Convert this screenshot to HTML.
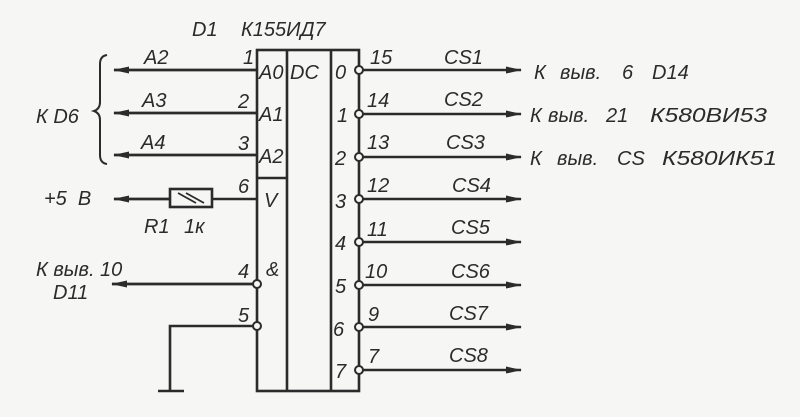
<!DOCTYPE html>
<html><head><meta charset="utf-8"><style>
html,body{margin:0;padding:0;background:#f6f6f4;}
svg{display:block}
text{font-family:"Liberation Sans","DejaVu Sans",sans-serif;font-style:italic;fill:#2b2b2b;font-size:20px;white-space:pre}
</style></head><body>
<svg width="800" height="417" viewBox="0 0 800 417" xmlns="http://www.w3.org/2000/svg">
<defs>
<marker id="a" markerWidth="16" markerHeight="10" refX="15" refY="5" orient="auto" markerUnits="userSpaceOnUse">
<path d="M0,1.5 L16,5 L0,8.5 Z" fill="#2b2b2b"/></marker>
</defs>
<g stroke="#2b2b2b" stroke-width="2.6" fill="none">
<rect x="257" y="50" width="102" height="341"/>
<line x1="287" y1="50" x2="287" y2="391"/>
<line x1="331" y1="50" x2="331" y2="391"/>
<line x1="257" y1="178" x2="287" y2="178"/>
<line x1="257" y1="70" x2="114" y2="70" marker-end="url(#a)" stroke-width="2.8"/>
<line x1="257" y1="113" x2="114" y2="113" marker-end="url(#a)" stroke-width="2.8"/>
<line x1="257" y1="155" x2="114" y2="155" marker-end="url(#a)" stroke-width="2.8"/>
<line x1="257" y1="199" x2="212" y2="199"/>
<rect x="170" y="189" width="42" height="18"/>
<line x1="178" y1="193" x2="196" y2="203" stroke-width="1.8"/>
<line x1="186" y1="193" x2="204" y2="203" stroke-width="1.8"/>
<line x1="170" y1="199" x2="114" y2="199" marker-end="url(#a)" stroke-width="2.8"/>
<line x1="253" y1="284" x2="112" y2="284" marker-end="url(#a)" stroke-width="2.8"/>
<polyline points="253,326 170,326 170,391"/>
<line x1="158" y1="391" x2="184" y2="391"/>
<path d="M107,55 Q100,56 100,64 L100,102 Q100,109 94,111 Q100,113 100,120 L100,155 Q100,163 107,164" stroke-width="2"/>
<g marker-end="url(#a)" stroke-width="2.6">
<line x1="363" y1="70" x2="521" y2="70"/>
<line x1="363" y1="114" x2="521" y2="114"/>
<line x1="363" y1="157" x2="521" y2="157"/>
<line x1="363" y1="199" x2="521" y2="199"/>
<line x1="363" y1="242" x2="521" y2="242"/>
<line x1="363" y1="285" x2="521" y2="285"/>
<line x1="363" y1="327" x2="521" y2="327"/>
<line x1="363" y1="370" x2="521" y2="370"/>
</g>
</g>
<g fill="#f6f6f4" stroke="#2b2b2b" stroke-width="2">
<circle cx="359" cy="70" r="4"/><circle cx="359" cy="114" r="4"/><circle cx="359" cy="157" r="4"/><circle cx="359" cy="199" r="4"/>
<circle cx="359" cy="242" r="4"/><circle cx="359" cy="285" r="4"/><circle cx="359" cy="327" r="4"/><circle cx="359" cy="370" r="4"/>
<circle cx="257" cy="284" r="4"/><circle cx="257" cy="326" r="4"/>
</g>
<text x="192" y="36">D1</text><text x="241" y="36">К155ИД7</text>
<text x="259" y="79">A0</text><text x="290" y="79">DC</text>
<text x="259" y="121">A1</text><text x="259" y="163">A2</text>
<text x="264" y="207">V</text><text x="266" y="276">&amp;</text>
<text x="243" y="64">1</text><text x="238" y="108">2</text><text x="238" y="150">3</text><text x="238" y="193">6</text>
<text x="238" y="278">4</text><text x="238" y="322">5</text>
<text x="144" y="64">A2</text><text x="142" y="107">A3</text><text x="141" y="149">A4</text>
<text x="36" y="123">К D6</text>
<text x="44" y="205">+5  В</text>
<text x="144" y="233">R1</text><text x="184" y="233">1к</text>
<text x="36" y="276">К выв. 10</text>
<text x="53" y="299">D11</text>
<text x="335" y="79">0</text><text x="337" y="122">1</text><text x="335" y="165">2</text><text x="335" y="208">3</text>
<text x="335" y="250">4</text><text x="335" y="293">5</text><text x="333" y="336">6</text><text x="335" y="378">7</text>
<text x="370" y="64">15</text><text x="367" y="107">14</text><text x="367" y="149">13</text><text x="367" y="192">12</text>
<text x="367" y="236">11</text><text x="365" y="278">10</text><text x="368" y="321">9</text><text x="368" y="363">7</text>
<text x="444" y="64">CS1</text><text x="444" y="106">CS2</text><text x="446" y="149">CS3</text>
<text x="452" y="192">CS4</text><text x="451" y="234">CS5</text><text x="451" y="278">CS6</text>
<text x="449" y="320">CS7</text><text x="449" y="362">CS8</text>
<text x="534" y="79">К</text><text x="560" y="79">выв.</text><text x="622" y="79">6</text><text x="652" y="79">D14</text>
<text x="530" y="122">К</text><text x="548" y="122">выв.</text><text x="606" y="122">21</text><text x="650" y="122" textLength="117" lengthAdjust="spacingAndGlyphs">К580ВИ53</text>
<text x="530" y="165">К</text><text x="557" y="165">выв.</text><text x="617" y="165">CS</text><text x="662" y="165" textLength="115" lengthAdjust="spacingAndGlyphs">К580ИК51</text>
</svg>
</body></html>
